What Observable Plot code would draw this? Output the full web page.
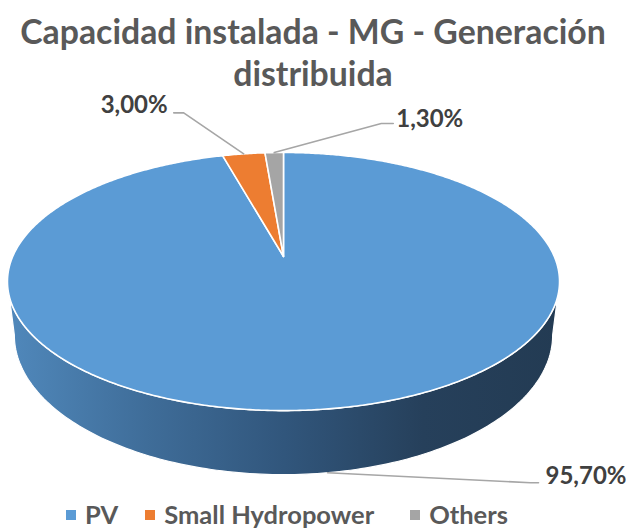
<!DOCTYPE html>
<html><head><meta charset="utf-8">
<script src="https://cdn.jsdelivr.net/npm/d3@7"></script>
<script src="https://cdn.jsdelivr.net/npm/@observablehq/plot@0.6"></script>
<style>
html,body{margin:0;padding:0;background:#fff;}
#wrap{width:626px;height:530px;position:relative;overflow:hidden;font-family:Lato,"Open Sans",sans-serif;}
#title{height:87px;box-sizing:border-box;padding-top:10px;text-align:center;font-weight:700;font-size:33.8px;line-height:42px;color:#595959;white-space:nowrap;}
#chart{height:403px;}
#chart svg{display:block;}
#legend{height:40px;display:flex;justify-content:center;align-items:center;font-weight:700;font-size:25.5px;color:#595959;white-space:nowrap;box-sizing:border-box;padding-top:7px;padding-right:52px;}
.item{display:flex;align-items:center;}
.sw{width:10px;height:10px;margin-right:9px;margin-top:3px;}
</style></head>
<body><div id="wrap">
<div id="title">Capacidad instalada - MG - Generación<br>distribuida</div>
<div id="chart"></div>
<div id="legend"></div>
</div>
<script>
// ---- data ----
const categories = ["PV", "Small Hydropower", "Others"];
const shares = [95.7, 3.0, 1.3];
const labels = ["95,70%", "3,00%", "1,30%"];
const colors = ["#5B9BD5", "#ED7D31", "#A5A5A5"];

// ---- 3D perspective projection of the pie (page pixel frame) ----
const P = {cx: 283, cy: 256, R: 270.8, S: 124.2, k: 0.194, H: 51.6, shrink: 0.975};
function topPt(t) {
  const u = Math.sin(t), v = Math.cos(t), w = 1 + P.k * v;
  return [P.cx + P.R * u / w, P.cy - P.S * v / w];
}
function bottomPt(t) {
  const u = Math.sin(t), v = Math.cos(t), w = 1 + P.k * v;
  return [P.cx + P.shrink * P.R * u / w, P.cy - P.S * v / w + P.H / w];
}

const table = categories.map((c, i) => ({category: c, share: shares[i], label: labels[i]}));
const arcs = d3.pie().sort(null).value(d => d.share).startAngle(0).endAngle(2 * Math.PI)(table);

// top face slices
const sliceRows = [];
for (const a of arcs) {
  const name = a.data.category;
  sliceRows.push({slice: name, x: P.cx, y: P.cy});
  const n = Math.max(4, Math.ceil((a.endAngle - a.startAngle) / (Math.PI / 360)));
  for (let j = 0; j <= n; j++) {
    const t = a.startAngle + (a.endAngle - a.startAngle) * j / n;
    const [x, y] = topPt(t);
    sliceRows.push({slice: name, x, y});
  }
}

// side wall (visible front part; all belongs to the first slice here)
const tR = Math.acos(-P.k), tL = 2 * Math.PI - tR;
const sideRows = [];
const pvArc = arcs[0];
const s0 = Math.max(tR, pvArc.startAngle), s1 = Math.min(tL, pvArc.endAngle);
const ns = 160;
for (let j = 0; j <= ns; j++) { const [x, y] = topPt(s0 + (s1 - s0) * j / ns); sideRows.push({x, y}); }
for (let j = ns; j >= 0; j--) { const [x, y] = bottomPt(s0 + (s1 - s0) * j / ns); sideRows.push({x, y}); }

// label layout (offsets from slice anchor)
const layout = {
  "PV": {edge: "bottom", elbow: [203, 10], end: [211, 10], text: [7, -6.5], anchor: "start"},
  "Small Hydropower": {edge: "top", elbow: [-60, -41], end: [-70, -41], text: [-6, -7.5], anchor: "end"},
  "Others": {edge: "top", elbow: [107, -29], end: [119, -29], text: [3, -4], anchor: "start"}
};
const leaderRows = [], textRows = [];
for (const a of arcs) {
  const name = a.data.category, L = layout[name];
  const mid = (a.startAngle + a.endAngle) / 2;
  const [ax, ay] = L.edge === "top" ? topPt(mid) : bottomPt(mid);
  leaderRows.push({slice: name, x: ax, y: ay});
  leaderRows.push({slice: name, x: ax + L.elbow[0], y: ay + L.elbow[1]});
  leaderRows.push({slice: name, x: ax + L.end[0], y: ay + L.end[1]});
  textRows.push({slice: name, label: a.data.label, x: ax + L.end[0] + L.text[0], y: ay + L.end[1] + L.text[1], anchor: L.anchor});
}

const defs = () => {
  const g = d3.create("svg:defs");
  const lg = g.append("linearGradient").attr("id", "sideGrad")
    .attr("gradientUnits", "userSpaceOnUse").attr("x1", 8).attr("x2", 560).attr("y1", 0).attr("y2", 0);
  [[0, "#5088BB"], [0.25, "#3F6D99"], [0.5, "#31567C"], [0.75, "#26405B"], [1, "#233B53"]]
    .forEach(([o, c]) => lg.append("stop").attr("offset", o).attr("stop-color", c));
  return g.node();
};

const Y0 = 87, Y1 = 490;
const chart = Plot.plot({
  width: 626, height: Y1 - Y0,
  margin: 0,
  x: {domain: [0, 626], range: [0, 626], axis: null},
  y: {domain: [Y0, Y1], range: [0, Y1 - Y0], axis: null},
  color: {domain: categories, range: colors},
  marks: [
    defs,
    Plot.line(sideRows, {x: "x", y: "y", curve: "linear-closed", fill: "url(#sideGrad)", stroke: "#ffffff", strokeWidth: 1.2}),
    Plot.line(sliceRows, {x: "x", y: "y", z: "slice", curve: "linear-closed", fill: "slice", stroke: "#ffffff", strokeWidth: 1.6, strokeLinejoin: "round"}),
    Plot.line(leaderRows, {x: "x", y: "y", z: "slice", stroke: "#A6A6A6", strokeWidth: 1.6}),
    Plot.text(textRows.filter(d => d.anchor === "start"), {x: "x", y: "y", text: "label", textAnchor: "start", fontSize: 24, fontWeight: "bold", fill: "#404040", fontFamily: "Lato, sans-serif"}),
    Plot.text(textRows.filter(d => d.anchor === "end"), {x: "x", y: "y", text: "label", textAnchor: "end", fontSize: 24, fontWeight: "bold", fill: "#404040", fontFamily: "Lato, sans-serif"})
  ]
});
document.getElementById("chart").appendChild(chart);

// legend
const leg = document.getElementById("legend");
categories.forEach((c, i) => {
  if (i > 0) { const g = document.createElement("span"); g.style.width = (i === 1 ? 27 : 36) + "px"; g.style.display = "inline-block"; leg.appendChild(g); }
  const it = document.createElement("span"); it.className = "item";
  const sw = document.createElement("span"); sw.className = "sw"; sw.style.background = colors[i];
  const tx = document.createElement("span"); tx.textContent = c;
  it.appendChild(sw); it.appendChild(tx); leg.appendChild(it);
});
</script>
</body></html>
